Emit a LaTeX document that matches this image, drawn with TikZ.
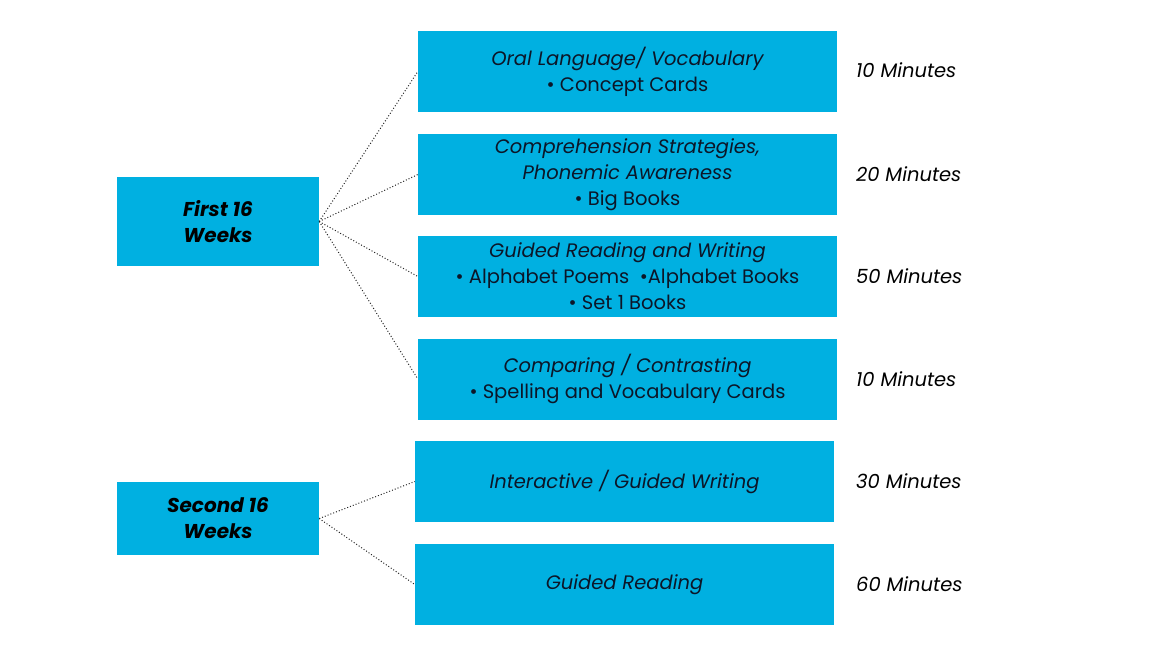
\documentclass[tikz,border=0pt]{standalone}
\usepackage{fontspec}
\setmainfont{Poppins}
\definecolor{boxblue}{RGB}{0,176,225}
\definecolor{navytext}{RGB}{12,22,40}
\begin{document}
\begin{tikzpicture}[x=1pt,y=-1pt,
  bx/.style={draw=none,fill=boxblue,inner sep=0pt,align=center,text=navytext,
    font=\fontsize{19.5}{26}\selectfont\itshape},
  leftbx/.style={bx,minimum width=202pt,font=\fontsize{20}{26}\selectfont\bfseries\itshape,text=black},
  rightbx/.style={bx,minimum width=419pt,minimum height=81pt},
  mins/.style={anchor=west,font=\fontsize{19.5}{22}\selectfont\itshape,text=black,inner sep=0pt},
  conn/.style={dotted,line width=1pt,black!85}]
\useasboundingbox (0,0) rectangle (1168,646);
\node[leftbx,minimum height=89pt] (first) at (218,221.5) {First 16\\Weeks};
\node[leftbx,minimum height=73pt] (second) at (218,518.5) {Second 16\\Weeks};
\node[rightbx] (b1) at (627.5,71.5) {Oral Language/ Vocabulary\\\upshape • Concept Cards};
\node[rightbx] (b2) at (627.5,174.5) {Comprehension Strategies,\\Phonemic Awareness\\\upshape • Big Books};
\node[rightbx] (b3) at (627.5,276.5) {Guided Reading and Writing\\\upshape • Alphabet Poems\ \ •Alphabet Books\\\upshape • Set 1 Books};
\node[rightbx] (b4) at (627.5,379) {Comparing / Contrasting\\\upshape • Spelling and Vocabulary Cards};
\node[rightbx] (b5) at (624.5,481.5) {Interactive / Guided Writing};
\node[rightbx] (b6) at (624.5,584.5) {Guided Reading};
\node[mins] (m1) at (856,70) {10 Minutes};
\node[mins] (m2) at (856,174) {20 Minutes};
\node[mins] (m3) at (856,276) {50 Minutes};
\node[mins] (m4) at (856,379) {10 Minutes};
\node[mins] (m5) at (856,481) {30 Minutes};
\node[mins] (m6) at (856,584) {60 Minutes};
\foreach \b in {b1,b2,b3,b4} \draw[conn] (first.east) -- (\b.west);
\foreach \b in {b5,b6} \draw[conn] (second.east) -- (\b.west);
\end{tikzpicture}
\end{document}
